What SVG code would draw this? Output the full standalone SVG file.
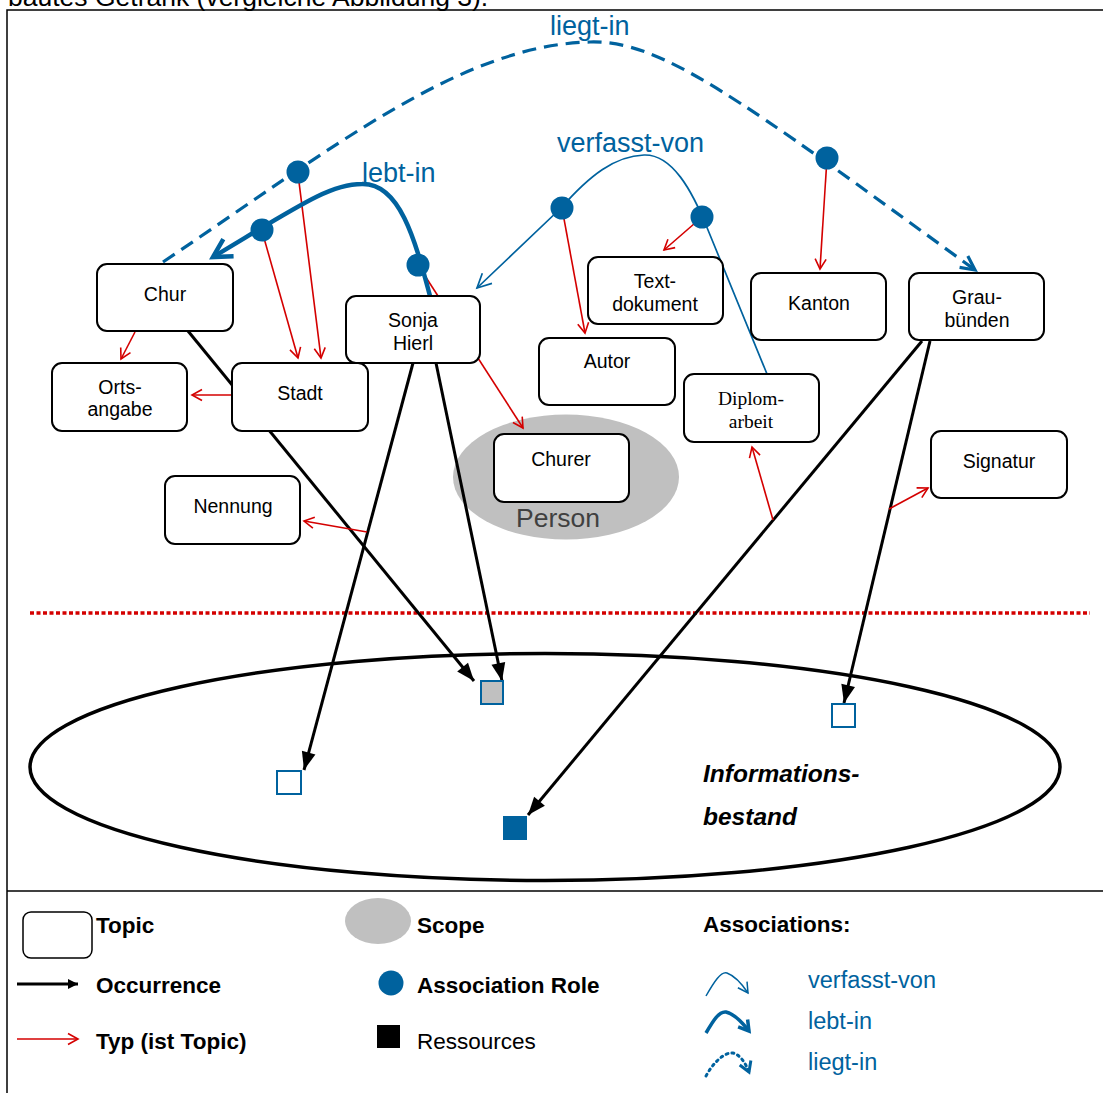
<svg xmlns="http://www.w3.org/2000/svg" width="1103" height="1093" viewBox="0 0 1103 1093">
<style>
text{font-family:"Liberation Sans",Arial,sans-serif;}
.nt{font-size:19.5px;fill:#000;text-anchor:middle;}
.serif{font-family:"Liberation Serif","Times New Roman",serif;font-size:19.5px;}
.box{fill:#fff;stroke:#000;stroke-width:2;}
.occ{stroke:#000;stroke-width:3;fill:none;marker-end:url(#mOcc);}
.typ{stroke:#d40000;stroke-width:1.6;fill:none;marker-end:url(#mTyp);}
.lab{font-size:27px;fill:#00629e;}
.leg{font-size:22.5px;font-weight:bold;fill:#000;}
.legb{font-size:23.5px;fill:#00629e;}
.role{fill:#00629e;}
.res{fill:#fff;stroke:#00629e;stroke-width:2;}
</style>
<defs>
<marker id="mOcc" markerUnits="userSpaceOnUse" markerWidth="18" markerHeight="14" viewBox="0 0 18 14" refX="18" refY="7" orient="auto" overflow="visible"><path d="M0,0 L18,7 L0,14 z" fill="#000"/></marker>
<marker id="mOccS" markerUnits="userSpaceOnUse" markerWidth="10" markerHeight="10" viewBox="0 0 10 10" refX="10" refY="5" orient="auto" overflow="visible"><path d="M0,0 L10,5 L0,10 z" fill="#000"/></marker>
<marker id="mTyp" markerUnits="userSpaceOnUse" markerWidth="12" markerHeight="12" viewBox="0 0 12 12" refX="11" refY="6" orient="auto" overflow="visible"><path d="M1,0.5 L11,6 L1,11.5" fill="none" stroke="#d40000" stroke-width="1.6"/></marker>
<marker id="mV" markerUnits="userSpaceOnUse" markerWidth="16" markerHeight="16" viewBox="0 0 16 16" refX="15" refY="8" orient="auto" overflow="visible"><path d="M1,1 L15,8 L1,15" fill="none" stroke="#00629e" stroke-width="1.7"/></marker>
<marker id="mL" markerUnits="userSpaceOnUse" markerWidth="24" markerHeight="24" viewBox="0 0 24 24" refX="21" refY="12" orient="auto" overflow="visible"><path d="M3,2 L21,12 L3,22" fill="none" stroke="#00629e" stroke-width="4.5"/></marker>
<marker id="mG" markerUnits="userSpaceOnUse" markerWidth="18" markerHeight="18" viewBox="0 0 18 18" refX="16" refY="9" orient="auto" overflow="visible"><path d="M2,2 L16,9 L2,16" fill="none" stroke="#00629e" stroke-width="3.2"/></marker>
<marker id="mVs" markerUnits="userSpaceOnUse" markerWidth="12" markerHeight="12" viewBox="0 0 12 12" refX="11" refY="6" orient="auto" overflow="visible"><path d="M1,0.5 L11,6 L1,11.5" fill="none" stroke="#00629e" stroke-width="1.5"/></marker>
<marker id="mLs" markerUnits="userSpaceOnUse" markerWidth="14" markerHeight="14" viewBox="0 0 14 14" refX="12" refY="7" orient="auto" overflow="visible"><path d="M2,1 L12,7 L2,13" fill="none" stroke="#00629e" stroke-width="3.5"/></marker>
<marker id="mGs" markerUnits="userSpaceOnUse" markerWidth="14" markerHeight="14" viewBox="0 0 14 14" refX="12" refY="7" orient="auto" overflow="visible"><path d="M2,1 L12,7 L2,13" fill="none" stroke="#00629e" stroke-width="3"/></marker>
</defs>
<rect width="1103" height="1093" fill="#fff"/>
<text x="8" y="6" font-size="26.5" fill="#000">bautes Getränk (vergleiche Abbildung 3).</text>
<rect x="7" y="10" width="1110" height="1100" fill="none" stroke="#000" stroke-width="1.5"/>
<line x1="7" y1="891" x2="1103" y2="891" stroke="#000" stroke-width="1.5"/>

<g id="scope-person">
<ellipse cx="566" cy="477" rx="113" ry="62.5" fill="#c0c0c0"/>
<text x="516" y="527" font-size="26.5" fill="#404040">Person</text>
</g>
<g id="informationsbestand">
<ellipse cx="545" cy="767" rx="515" ry="113.5" fill="none" stroke="#000" stroke-width="3.5"/>
<text x="703" y="782" font-size="24.5" font-weight="bold" font-style="italic">Informations-</text>
<text x="703" y="825" font-size="24.5" font-weight="bold" font-style="italic">bestand</text>
</g>
<line id="grenze" x1="30" y1="613" x2="1090" y2="613" stroke="#d40000" stroke-width="3.5" stroke-dasharray="4 2.5"/>

<g id="connectors">
<line class="occ" x1="188" y1="331" x2="474" y2="681"/>
<line class="occ" x1="413" y1="363" x2="304" y2="770"/>
<line class="occ" x1="436" y1="363" x2="502" y2="681"/>
<line class="occ" x1="922" y1="341" x2="528" y2="815"/>
<line class="occ" x1="930" y1="341" x2="844" y2="703"/>
<line class="typ" x1="298" y1="174" x2="321" y2="358"/>
<line class="typ" x1="262" y1="231" x2="298" y2="358"/>
<line class="typ" x1="418" y1="265" x2="523" y2="428"/>
<line class="typ" x1="135" y1="332" x2="121" y2="359"/>
<line class="typ" x1="232" y1="395" x2="192" y2="395"/>
<line class="typ" x1="367" y1="532" x2="304" y2="521"/>
<line class="typ" x1="562" y1="208" x2="585" y2="333"/>
<line class="typ" x1="702" y1="217" x2="664" y2="250"/>
<line class="typ" x1="827" y1="158" x2="820" y2="269"/>
<line class="typ" x1="773" y1="520" x2="752" y2="447"/>
<line class="typ" x1="889" y1="509" x2="928" y2="488"/>
<path id="liegt-in" d="M163,262 C330,150 460,45 590,42 C660,40 735,95 975,270" fill="none" stroke="#00629e" stroke-width="3.2" stroke-dasharray="14 8" marker-end="url(#mG)"/>
<path id="lebt-in" d="M430,296 C415,240 400,183 362,184 C330,184 300,205 213,257" fill="none" stroke="#00629e" stroke-width="4.5" marker-end="url(#mL)"/>
<path id="verfasst-von" d="M767,374 L708,230 C692,190 672,154 644,155 C615,156 590,175 561,208 L477,288" fill="none" stroke="#00629e" stroke-width="1.7" marker-end="url(#mV)"/>
<text class="lab" x="550" y="35">liegt-in</text>
<text class="lab" x="362" y="182">lebt-in</text>
<text class="lab" x="557" y="152">verfasst-von</text>
</g>

<g id="roles">
<circle class="role" cx="298" cy="172" r="11.5"/>
<circle class="role" cx="262" cy="230" r="11.5"/>
<circle class="role" cx="418" cy="265" r="11.5"/>
<circle class="role" cx="562" cy="208" r="11.5"/>
<circle class="role" cx="702" cy="217" r="11.5"/>
<circle class="role" cx="827" cy="158" r="11.5"/>
</g>

<g id="resources">
<rect class="res" x="277" y="771" width="24" height="23"/>
<rect x="481" y="681" width="22" height="23" fill="#c0c0c0" stroke="#00629e" stroke-width="2"/>
<rect class="res" x="832" y="704" width="23" height="23"/>
<rect x="503" y="816" width="24" height="24" fill="#00629e"/>
</g>

<g id="node-chur"><rect class="box" x="97" y="264" width="136" height="67" rx="10"/><text class="nt" x="165" y="301">Chur</text></g>
<g id="node-ortsangabe"><rect class="box" x="52" y="363" width="135" height="68" rx="10"/><text class="nt" x="120" y="394">Orts-</text><text class="nt" x="120" y="416">angabe</text></g>
<g id="node-stadt"><rect class="box" x="232" y="363" width="136" height="68" rx="10"/><text class="nt" x="300" y="400">Stadt</text></g>
<g id="node-sonja"><rect class="box" x="346" y="296" width="134" height="67" rx="10"/><text class="nt" x="413" y="327">Sonja</text><text class="nt" x="413" y="350">Hierl</text></g>
<g id="node-nennung"><rect class="box" x="165" y="476" width="135" height="68" rx="10"/><text class="nt" x="233" y="513">Nennung</text></g>
<g id="node-textdokument"><rect class="box" x="588" y="257" width="135" height="67" rx="10"/><text class="nt" x="655" y="288">Text-</text><text class="nt" x="655" y="311">dokument</text></g>
<g id="node-autor"><rect class="box" x="539" y="338" width="136" height="67" rx="10"/><text class="nt" x="607" y="368">Autor</text></g>
<g id="node-kanton"><rect class="box" x="751" y="273" width="135" height="67" rx="10"/><text class="nt" x="819" y="310">Kanton</text></g>
<g id="node-graubuenden"><rect class="box" x="909" y="273" width="135" height="67" rx="10"/><text class="nt" x="977" y="304">Grau-</text><text class="nt" x="977" y="327">bünden</text></g>
<g id="node-diplomarbeit"><rect class="box" x="684" y="374" width="135" height="68" rx="10"/><text class="nt serif" x="751" y="405">Diplom-</text><text class="nt serif" x="751" y="428">arbeit</text></g>
<g id="node-churer"><rect class="box" x="494" y="434" width="135" height="68" rx="10"/><text class="nt" x="561" y="466">Churer</text></g>
<g id="node-signatur"><rect class="box" x="931" y="431" width="136" height="67" rx="10"/><text class="nt" x="999" y="468">Signatur</text></g>

<g id="legend">
<rect x="23" y="912" width="69" height="46" rx="8" fill="#fff" stroke="#000" stroke-width="1.5"/>
<text class="leg" x="96" y="933">Topic</text>
<ellipse cx="378" cy="921" rx="33" ry="23" fill="#c0c0c0"/>
<text class="leg" x="417" y="933">Scope</text>
<text class="leg" x="703" y="932">Associations:</text>
<line x1="17" y1="984" x2="78" y2="984" stroke="#000" stroke-width="3" marker-end="url(#mOccS)"/>
<text class="leg" x="96" y="993">Occurrence</text>
<circle cx="391" cy="983" r="12.5" fill="#00629e"/>
<text class="leg" x="417" y="993">Association Role</text>
<line x1="17" y1="1039" x2="78" y2="1039" stroke="#d40000" stroke-width="1.6" marker-end="url(#mTyp)"/>
<text class="leg" x="96" y="1049">Typ (ist Topic)</text>
<rect x="377" y="1025" width="23" height="23" fill="#000"/>
<text x="417" y="1049" font-size="22.5" fill="#000">Ressources</text>
<path d="M706,996 C714,982 721,971 727,973 C735,976 742,984 748,993" fill="none" stroke="#00629e" stroke-width="1.5" marker-end="url(#mVs)"/>
<path d="M706,1033 C713,1021 719,1011 726,1012 C734,1014 742,1022 749,1031" fill="none" stroke="#00629e" stroke-width="3.5" marker-end="url(#mLs)"/>
<path d="M706,1076 C713,1063 724,1052 733,1053 C740,1055 745,1062 749,1072" fill="none" stroke="#00629e" stroke-width="3" stroke-dasharray="2 4" stroke-linecap="round" marker-end="url(#mGs)"/>
<text class="legb" x="808" y="988">verfasst-von</text>
<text class="legb" x="808" y="1029">lebt-in</text>
<text class="legb" x="808" y="1070">liegt-in</text>
</g>
</svg>
